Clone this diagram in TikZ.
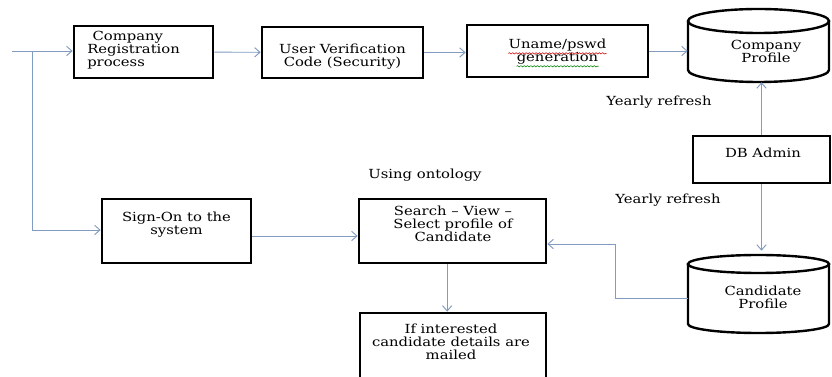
\documentclass[tikz,border=0pt]{standalone}
\usepackage{fontspec}
\setmainfont[FakeStretch=1.18]{DejaVu Serif}
\usetikzlibrary{arrows.meta,decorations.pathmorphing}
\definecolor{conncol}{HTML}{819CC0}
\begin{document}
\begin{tikzpicture}[x=0.75pt,y=-0.75pt,
  box/.style={draw=black,line width=2pt,rectangle,inner sep=0pt},
  ghost/.style={rectangle,inner sep=0pt},
  cyl/.style={draw=black,line width=1.8pt},
  lbl/.style={font=\fontsize{9.4}{9.75}\selectfont,align=center,inner sep=0pt},
  conn/.style={draw=conncol,line width=0.7pt,-{Straight Barb[length=4pt,width=7pt]}},
  plain/.style={draw=conncol,line width=0.7pt}]
\useasboundingbox (0,0) rectangle (832,377);
\clip (0,0) rectangle (832,377);
\fill[white] (0,0) rectangle (832,377);
% boxes
\node[box,minimum width=104.25pt,minimum height=39pt] (cr) at (143.5,52) {};
\node[box,minimum width=120.75pt,minimum height=38.25pt] (uv) at (342.5,52.5) {};
\node[box,minimum width=135.75pt,minimum height=39pt] (un) at (557.5,51) {};
\node[box,minimum width=111.75pt,minimum height=48pt] (so) at (176.5,231) {};
\node[box,minimum width=140.25pt,minimum height=48pt] (sv) at (452.5,231) {};
\node[box,minimum width=139.5pt,minimum height=65.25pt] (ma) at (453,356.5) {};
\node[box,minimum width=102.75pt,minimum height=35.25pt] (db) at (761.5,159.5) {};
% cylinders
\node[ghost,minimum width=105.75pt,minimum height=54.75pt] (cp) at (758.5,45.5) {};
\node[ghost,minimum width=105.75pt,minimum height=58.5pt] (ca) at (758.5,294) {};
\draw[cyl] (688,21) -- (688,70) arc[start angle=180,end angle=360,x radius=52.875pt,y radius=9pt] -- (829,21);
\draw[cyl] (758.5,21) ellipse [x radius=52.875pt,y radius=9pt];
\draw[cyl] (688,264) -- (688,324) arc[start angle=180,end angle=360,x radius=52.875pt,y radius=6.75pt] -- (829,264);
\draw[cyl] (758.5,264) ellipse [x radius=52.875pt,y radius=6.75pt];
% texts
\node[lbl,align=left,anchor=west] (crt) at (87,50) {\hspace*{4pt}Company\\Registration\\process};
\node[lbl] (uvt) at (342.5,56.5) {User Verification\\Code (Security)};
\node[lbl] (un1) at (557.5,45) {Uname/pswd};
\node[lbl] (un2) at (557.5,58) {generation};
\draw[red!80!black,line width=0.4pt,decorate,decoration={snake,amplitude=0.5pt,segment length=2.5pt}] ([yshift=-1.5pt]un1.south west) -- ([yshift=-1.5pt]un1.south east);
\draw[green!50!black,line width=0.4pt,decorate,decoration={snake,amplitude=0.5pt,segment length=2.5pt}] ([yshift=-1.5pt]un2.south west) -- ([yshift=-1.5pt]un2.south east);
\node[lbl] (cpt) at (766,51.5) {Company\\Profile};
\node[lbl] (sot) at (176.5,224.5) {Sign-On to the\\system};
\node[lbl] (svt) at (453,223.5) {Search – View –\\Select profile of\\Candidate};
\node[lbl] (mat) at (451,342) {If interested\\candidate details are\\mailed};
\node[lbl] (dbt) at (763,153) {DB Admin};
\node[lbl] (cat) at (763,297) {Candidate\\Profile};
\node[lbl] (yr1) at (659,102) {Yearly refresh};
\node[lbl] (yr2) at (668,200) {Yearly refresh};
\node[lbl] (ont) at (425,175) {Using ontology};
% connectors
\coordinate (in) at (12,51);
\coordinate (jn) at (32,51);
\coordinate (bend) at (615,244);
\draw[conn] (in) -- (in -| cr.west);
\draw[conn] (jn) |- ([yshift=0.75pt]so.west);
\draw[conn] (cr) -- (uv);
\draw[conn] (uv) -- (uv -| un.west);
\draw[conn] (un) -- (un -| cp.west);
\draw[conn] ([yshift=-3.75pt]so.east) -- ([yshift=-3.75pt]sv.west);
\draw[conn] ([xshift=-4pt]sv.south) -- ([xshift=-4pt]sv.south |- ma.north);
\draw[conn] (db.north) -- (db.north |- cp.south);
\draw[conn] (db.south) -- ([yshift=3pt]db.south |- ca.north);
\draw[conn] ([yshift=-3pt]ca.west) -| (bend) -- (bend -| sv.east);
\end{tikzpicture}
\end{document}
